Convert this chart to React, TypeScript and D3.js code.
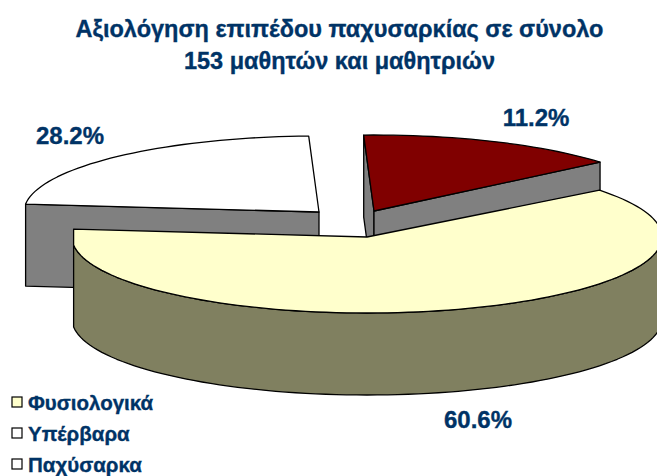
import React from "react";
import * as d3 from "d3";

const titleLines = ["Αξιολόγηση επιπέδου παχυσαρκίας σε σύνολο", "153 μαθητών και μαθητριών"];
const categories = ["Παχύσαρκα", "Φυσιολογικά", "Υπέρβαρα"];
const values = [11.2, 60.6, 28.2];
const topColors = ["#800000", "#FFFFCC", "#FFFFFF"];
const rimColors = ["#808080", "#808060", "#808080"];
const legendOrder = ["Φυσιολογικά", "Υπέρβαρα", "Παχύσαρκα"];
const legendColors = ["#FFFFCC", "#FFFFFF", "#FFFFFF"];
const labelPos = [
  [536, 117],
  [478, 419],
  [70, 135],
];
// exploded slice apexes on the page
const apex = [
  [374, 211],
  [367, 237],
  [319, 212],
];
const TEXT = "#003366";
const FONT = "'Liberation Sans', Arial, sans-serif";
const RX = 295;
const RY = 76;
const DEPTH = 82;
const LEFT_CUT = 264; // the disc's left extreme is flattened into a vertical edge

const rad = (d: number) => (d * Math.PI) / 180;
// Pie angle -> apparent angle on the tilted disc (3D foreshortening)
const warpStart = d3.scaleLinear().domain([-2, 38.3, 256.5, 358]).range([-2, 52, 276, 358]);
const warpEnd = d3.scaleLinear().domain([-2, 38.3, 256.5, 358]).range([-2, 50, 276, 358]);
const pie = d3
  .pie<number>()
  .sort(null)
  .startAngle(rad(-2))
  .endAngle(rad(358));
const line = d3.line();

function rimPoints(i: number, a0: number, a1: number, dy = 0): [number, number][] {
  const n = Math.max(2, Math.ceil(Math.abs(a1 - a0) / 2));
  return d3.range(n + 1).map((k) => {
    const a = rad(a0 + ((a1 - a0) * k) / n);
    return [apex[i][0] + RX * Math.sin(a), apex[i][1] - RY * Math.cos(a) + dy] as [number, number];
  });
}

export default function App() {
  const arcs = pie(values).map((p) => ({
    a0: warpStart((p.startAngle * 180) / Math.PI),
    a1: warpEnd((p.endAngle * 180) / Math.PI),
  }));
  const drawOrder = [2, 0, 1];
  const heavy = { stroke: TEXT, strokeWidth: 0.35 };
  return (
    <svg
      width={657}
      height={476}
      style={{ position: "fixed", left: 0, top: 0, background: "#fff" }}
      fontFamily={FONT}
    >
      {titleLines.map((t, i) => (
        <text key={t} x={339.5} y={37 + i * 32} textAnchor="middle" fontSize={23.5} fontWeight="bold" fill={TEXT} {...heavy}>
          {t}
        </text>
      ))}
      {drawOrder.map((i) => {
        const { a0, a1 } = arcs[i];
        const c = apex[i] as [number, number];
        const start = rimPoints(i, a0, a0)[0];
        const end = rimPoints(i, a1, a1)[0];
        const down = (p: [number, number]): [number, number] => [p[0], p[1] + DEPTH];
        const norm = (a: number) => ((a % 360) + 360) % 360;
        const walls: [number, number][][] = [];
        if (norm(a0) > 180) walls.push([start, c, down(c), down(start)]);
        if (norm(a1) < 180) walls.push([end, c, down(c), down(end)]);
        const f0 = Math.max(a0, 90);
        const f1 = Math.min(a1, LEFT_CUT);
        const front =
          f1 > f0
            ? [...rimPoints(i, f0, f1), ...rimPoints(i, f1, f0, DEPTH)]
            : null;
        const top =
          a1 > LEFT_CUT && a0 < LEFT_CUT
            ? [c, ...rimPoints(i, a0, LEFT_CUT), end]
            : [c, ...rimPoints(i, a0, a1)];
        return (
          <g key={categories[i]} stroke="#000" strokeWidth={1.3} strokeLinejoin="round">
            {walls.map((w, k) => (
              <path key={k} d={(line(w) as string) + "Z"} fill="#808080" />
            ))}
            {front && <path d={(line(front) as string) + "Z"} fill={rimColors[i]} />}
            <path d={(line(top) as string) + "Z"} fill={topColors[i]} />
          </g>
        );
      })}
      {values.map((v, i) => (
        <text
          key={i}
          x={labelPos[i][0]}
          y={labelPos[i][1]}
          textAnchor="middle"
          dominantBaseline="central"
          fontSize={24}
          fontWeight="bold"
          fill={TEXT}
          {...heavy}
        >
          {v.toFixed(1)}%
        </text>
      ))}
      {legendOrder.map((name, i) => (
        <g key={name} transform={`translate(0,${402 + i * 31})`}>
          <rect x={12} y={-5} width={10} height={10} fill={legendColors[i]} stroke="#000" strokeWidth={1.2} />
          <text x={28} y={8} fontSize={20.5} fontWeight="bold" fill={TEXT} {...heavy}>
            {name}
          </text>
        </g>
      ))}
    </svg>
  );
}
